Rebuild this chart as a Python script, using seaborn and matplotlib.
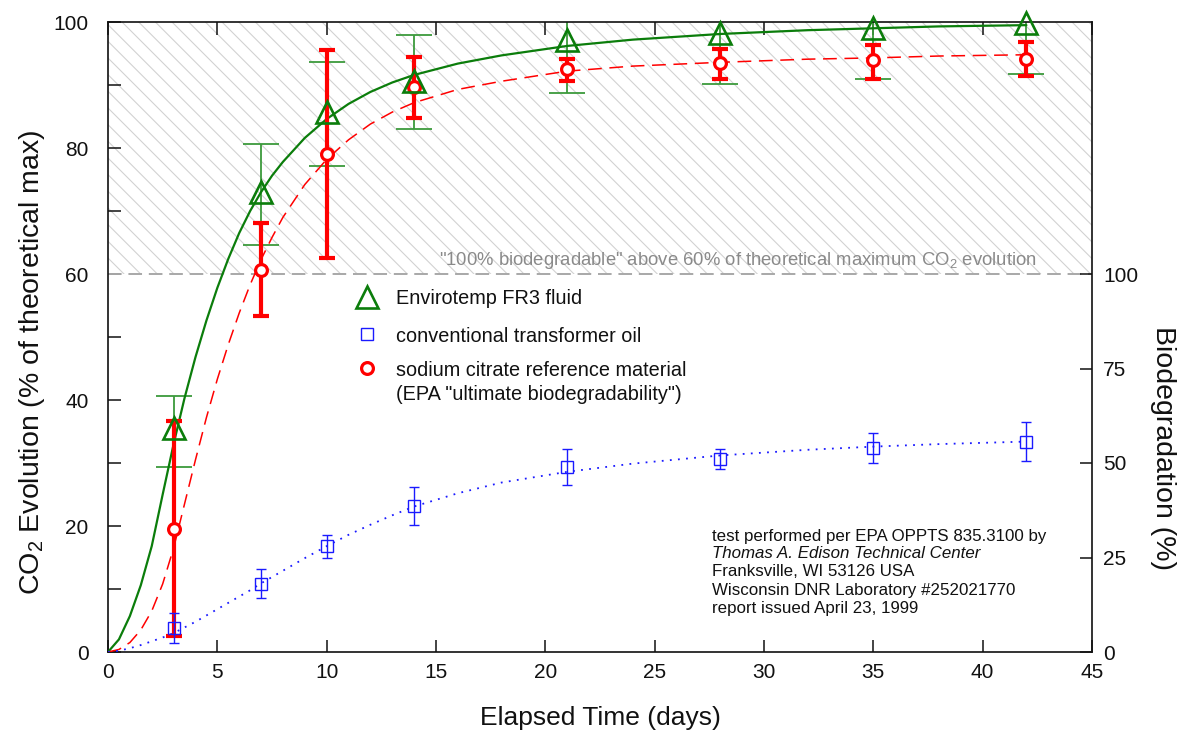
import numpy as np
import pandas as pd
import matplotlib
matplotlib.use("Agg")
import matplotlib.pyplot as plt
import seaborn as sns

# ---------------- data ----------------
days = [3, 7, 10, 14, 21, 28, 35, 42]

fr3_mean = [35.5, 73.0, 85.7, 90.6, 97.1, 98.2, 99.1, 99.8]
fr3_low = [29.4, 64.6, 77.2, 83.0, 88.8, 90.1, 91.0, 91.7]
fr3_high = [40.6, 80.6, 93.7, 97.9, 105.4, 106.3, 107.2, 107.9]

oil_mean = [3.8, 10.8, 16.8, 23.2, 29.3, 30.6, 32.4, 33.4]
oil_low = [1.4, 8.5, 15.0, 20.1, 26.5, 29.0, 30.0, 30.3]
oil_high = [6.2, 13.1, 18.5, 26.2, 32.2, 32.2, 34.7, 36.5]

cit_mean = [19.6, 60.7, 79.1, 89.7, 92.5, 93.5, 93.9, 94.2]
cit_low = [2.5, 53.3, 62.6, 84.8, 90.6, 90.9, 91.0, 91.5]
cit_high = [36.6, 68.1, 95.6, 94.5, 94.2, 95.7, 96.4, 96.8]

fit_days = [0, 0.5, 1, 1.5, 2, 2.5, 3, 3.5, 4, 4.5, 5, 5.5, 6, 6.5, 7, 7.5, 8,
            9, 10, 11, 12, 13, 14, 16, 18, 21, 24, 28, 32, 35, 38, 42]
fr3_fit = [0, 2.0, 5.7, 10.6, 16.8, 25.0, 33.0, 40.3, 46.8, 52.6, 57.8, 62.4,
           66.5, 70.0, 73.0, 75.6, 77.8, 81.6, 84.6, 87.0, 88.9, 90.4, 91.6,
           93.4, 94.7, 96.2, 97.2, 98.1, 98.7, 99.0, 99.3, 99.5]
cit_fit = [0, 0.4, 1.5, 3.5, 6.5, 10.8, 16.5, 23.5, 30.5, 37.2, 43.3, 48.8,
           53.8, 58.3, 62.3, 65.8, 69.0, 74.2, 78.2, 81.3, 83.8, 85.7, 87.2,
           89.3, 90.6, 92.2, 93.0, 93.6, 94.1, 94.3, 94.6, 94.8]
oil_fit = [0, 0.2, 0.6, 1.1, 1.7, 2.3, 3.0, 3.9, 4.8, 5.8, 6.8, 7.8, 8.8, 9.8,
           10.9, 11.9, 12.9, 14.9, 16.8, 18.6, 20.2, 21.7, 23.1, 25.2, 26.9,
           28.6, 29.9, 31.2, 32.1, 32.6, 33.0, 33.4]

labels = ["Envirotemp FR3 fluid", "conventional transformer oil",
          "sodium citrate reference material",
          '(EPA "ultimate biodegradability")']
note_lines = ["test performed per EPA OPPTS 835.3100 by",
              "Thomas A. Edison Technical Center",
              "Franksville, WI 53126 USA",
              "Wisconsin DNR Laboratory #252021770",
              "report issued April 23, 1999"]
threshold_text = '"100% biodegradable" above 60% of theoretical maximum CO$_2$ evolution'

# ---------------- style ----------------
sns.set_theme(style="ticks")
plt.rcParams['font.family'] = ['Liberation Sans', 'DejaVu Sans']
plt.rcParams['mathtext.default'] = 'regular'
plt.rcParams['hatch.linewidth'] = 0.8

GREEN = '#0b7d0b'
GREEN_EB = '#3c9a3c'
RED = '#ff0000'
BLUE = '#1a1aff'
INK = '#111111'

W, H = 1185, 733
fig = plt.figure(figsize=(W / 100, H / 100), dpi=100)
L, R, T, B = 108, 1092, 22, 652
ax = fig.add_axes([L / W, (H - B) / H, (R - L) / W, (B - T) / H])

ax.set_xlim(0, 45)
ax.set_ylim(0, 100)

# hatched "biodegradable" region
ax.axhspan(60, 100, facecolor='none', hatch='\\\\', edgecolor='#d2d2d2',
           linewidth=0, zorder=0)
ax.axhline(60, color='#a8a8a8', lw=1.4, dashes=(7, 3.5), zorder=1)
ax.text(42.45, 61.5, threshold_text, ha='right', va='baseline',
        fontsize=13.3, color='#8a8a8a')

# fitted curves via seaborn
fit_df = pd.DataFrame({'day': fit_days, 'fr3': fr3_fit, 'cit': cit_fit, 'oil': oil_fit})
sns.lineplot(data=fit_df, x='day', y='fr3', ax=ax, color=GREEN, lw=1.6,
             estimator=None, sort=False, zorder=3)
sns.lineplot(data=fit_df, x='day', y='cit', ax=ax, color=RED, lw=1.1,
             estimator=None, sort=False, zorder=3)
ax.lines[-1].set_dashes([9, 5])
sns.lineplot(data=fit_df, x='day', y='oil', ax=ax, color=BLUE, lw=1.3,
             estimator=None, sort=False, zorder=3)
ax.lines[-1].set_dashes([1, 3.5])

def err(mean, low, high):
    m = np.array(mean)
    return [m - np.array(low), np.array(high) - m]

# error bars
ax.errorbar(days, fr3_mean, yerr=err(fr3_mean, fr3_low, fr3_high), fmt='none',
            ecolor=GREEN_EB, elinewidth=1.3, capsize=13, capthick=1.3, zorder=2)
ax.errorbar(days, cit_mean, yerr=err(cit_mean, cit_low, cit_high), fmt='none',
            ecolor=RED, elinewidth=3.0, capsize=6, capthick=3.0, zorder=3)
ax.errorbar(days, oil_mean, yerr=err(oil_mean, oil_low, oil_high), fmt='none',
            ecolor=BLUE, elinewidth=1.0, capsize=3.5, capthick=1.0, zorder=3)

# markers
ax.plot(days, cit_mean, ls='none', marker='o', ms=8.5, mew=2.3, mec=RED,
        mfc='white', zorder=4, clip_on=False)
ax.plot(days, oil_mean, ls='none', marker='s', ms=8.5, mew=1.0, mec=BLUE,
        mfc='none', zorder=4, clip_on=False)
ax.plot(days, fr3_mean, ls='none', marker='^', ms=16.5, mew=1.9, mec=GREEN,
        mfc='none', zorder=5, clip_on=False)

# manual legend
def axpt(px, py):
    return (px - L) / (R - L), (B - py) / (B - T)

lx, _ = axpt(367, 0)
tx, _ = axpt(396, 0)
for (py, mk, kw), lab in zip(
        [(297, '^', dict(ms=16.5, mew=1.9, mec=GREEN, mfc='none')),
         (334, 's', dict(ms=8.5, mew=1.0, mec=BLUE, mfc='none')),
         (368, 'o', dict(ms=8.5, mew=2.3, mec=RED, mfc='white'))],
        labels[:3]):
    _, y = axpt(0, py)
    ax.plot([lx], [y], transform=ax.transAxes, marker=mk, ls='none', **kw)
    ax.text(tx, axpt(0, py + 2)[1], lab, transform=ax.transAxes,
            ha='left', va='center', fontsize=14.3, color=INK)
ax.text(tx, axpt(0, 395)[1], labels[3], transform=ax.transAxes,
        ha='left', va='center', fontsize=14.3, color=INK)

# note block
for i, line in enumerate(note_lines):
    ax.text(axpt(712, 0)[0], axpt(0, 536 + 18 * i)[1], line,
            transform=ax.transAxes, ha='left', va='center', fontsize=12.2,
            style='italic' if i == 1 else 'normal', color=INK)

# axes / ticks
ax.set_xticks(range(0, 46, 5))
ax.set_yticks(range(0, 101, 20))
ax.set_yticks(range(10, 100, 20), minor=True)
ax.tick_params(axis='x', direction='in', top=True, length=9, width=1.1,
               labelsize=15, pad=8, colors=INK)
ax.tick_params(axis='y', which='both', direction='in', right=False, length=9,
               width=1.1, labelsize=15, pad=14, colors=INK)
for s in ax.spines.values():
    s.set_visible(True)
    s.set_linewidth(1.2)
    s.set_color(INK)

ax.set_xlabel('Elapsed Time (days)', fontsize=19, color=INK)
ax.xaxis.set_label_coords(0.5, -0.105)
ax.xaxis.label.set_va('center')
ax.set_ylabel('CO$_2$ Evolution (% of theoretical max)', fontsize=20.5,
              color=INK)
ax.yaxis.set_label_coords(-0.077, 0.46)
ax.yaxis.label.set_va('center')

ax2 = ax.twinx()
ax2.set_ylim(0, 100 / 0.6)
ax2.set_yticks([0, 25, 50, 75, 100])
ax2.tick_params(axis='y', direction='in', length=9, width=1.1, labelsize=15,
                pad=8, colors=INK)
for s in ax2.spines.values():
    s.set_visible(False)
ax2.set_ylabel('Biodegradation (%)', fontsize=20.5, rotation=270, color=INK)
ax2.yaxis.set_label_coords(1.072, 0.324)
ax2.yaxis.label.set_va('center')

fig.savefig('out.png', dpi=100)
